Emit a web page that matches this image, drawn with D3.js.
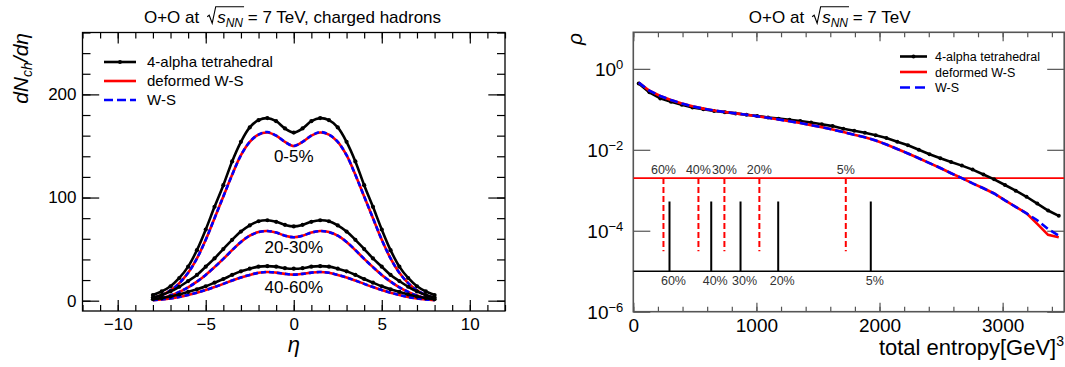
<!DOCTYPE html>
<meta charset="utf-8">
<style>
body { margin: 0; background: #fff; }
svg { font-family: "Liberation Sans", Arial, Helvetica, sans-serif; }
</style>
<body>
<script src="https://d3js.org/d3.v7.min.js"></script>
<script>

//
// Data: dN/deta vs eta (left panel)
//

var eta = [-8, -7.5, -7, -6.5, -6, -5.5, -5, -4.5, -4, -3.5, -3, -2.5, -2, -1.5, -1, -0.5, 0,
           0.5, 1, 1.5, 2, 2.5, 3, 3.5, 4, 4.5, 5, 5.5, 6, 6.5, 7, 7.5, 8];

var tetra05   = [5.5, 9, 14, 22, 33, 49, 69, 91, 112, 135, 154, 168, 175, 177, 174, 167, 163,
                 167, 174, 177, 175, 168, 154, 135, 112, 91, 69, 49, 33, 22, 14, 9, 5.5];
var defWS05   = [2.5, 5.5, 10, 17, 27, 41, 59, 80, 101, 122, 141, 154, 161, 163, 160, 154, 150,
                 154, 160, 163, 161, 154, 141, 122, 101, 80, 59, 41, 27, 17, 10, 5.5, 2.5];
var ws05      = [2.5, 5.5, 10, 17, 27, 41, 59, 80, 101, 122, 141, 154, 161, 163.5, 160, 154, 150,
                 154, 160, 163.5, 161, 154, 141, 122, 101, 80, 59, 41, 27, 17, 10, 5.5, 2.5];

var tetra2030 = [3, 5.5, 9, 13.5, 19, 25, 33, 41, 50, 59, 67, 73, 77, 78, 76.5, 73.5, 72,
                 73.5, 76.5, 78, 77, 73, 67, 59, 50, 41, 33, 25, 19, 13.5, 9, 5.5, 3];
var defWS2030 = [1, 2.5, 5, 8.5, 13, 18.5, 25, 32.5, 40.5, 49, 57, 63, 66.5, 67.5, 66, 63, 61.5,
                 63, 66, 67.5, 66.5, 63, 57, 49, 40.5, 32.5, 25, 18.5, 13, 8.5, 5, 2.5, 1];
var ws2030    = [1, 2.5, 5, 8.5, 13, 18.5, 25, 32.5, 40.5, 49, 57, 63, 66.5, 67.5, 66, 63, 61.5,
                 63, 66, 67.5, 66.5, 63, 57, 49, 40.5, 32.5, 25, 18.5, 13, 8.5, 5, 2.5, 1];

var tetra4060 = [1.5, 2.5, 4, 6, 8.5, 11, 14, 17.5, 21, 25, 28.5, 31, 33, 33.5, 33, 31.5, 31,
                 31.5, 33, 33.5, 33, 31, 28.5, 25, 21, 17.5, 14, 11, 8.5, 6, 4, 2.5, 1.5];
var defWS4060 = [0.5, 1.2, 2.2, 3.6, 5.5, 7.7, 10.3, 13.2, 16.3, 19.5, 22.5, 25, 27, 27.8, 27.2, 26, 25.3,
                 26, 27.2, 27.8, 27, 25, 22.5, 19.5, 16.3, 13.2, 10.3, 7.7, 5.5, 3.6, 2.2, 1.2, 0.5];
var ws4060    = [0.5, 1.2, 2.2, 3.6, 5.5, 7.7, 10.3, 13.2, 16.3, 19.5, 22.5, 25, 27, 27.8, 27.2, 26, 25.3,
                 26, 27.2, 27.8, 27, 25, 22.5, 19.5, 16.3, 13.2, 10.3, 7.7, 5.5, 3.6, 2.2, 1.2, 0.5];

var centralityNames = ["0-5%", "20-30%", "40-60%"];
var centralityLabelY = [134.7, 45.9, 7.7];

//
// Data: rho vs total entropy (right panel)
//

var entropy = [44, 131, 219, 306, 394, 481, 569, 656, 744, 831,
               919, 1006, 1094, 1181, 1269, 1356, 1444, 1531, 1619, 1706,
               1794, 1881, 1969, 2056, 2144, 2231, 2319, 2406, 2494, 2581,
               2669, 2756, 2844, 2931, 3019, 3106, 3194, 3281, 3369, 3456];

var rhoTetra = [0.437, 0.263, 0.186, 0.153, 0.129, 0.111, 0.100, 0.0912, 0.0851, 0.0794,
                0.0733, 0.0684, 0.0631, 0.0589, 0.0550, 0.0513, 0.0473, 0.0427, 0.0385, 0.0331,
                0.0295, 0.0263, 0.0229, 0.0195, 0.0158, 0.0129, 0.0100, 0.00776, 0.00617, 0.00501,
                0.00407, 0.00324, 0.00245, 0.00186, 0.00135, 0.000977, 0.000692, 0.000468, 0.000316, 0.000234];
var rhoDefWS = [0.457, 0.288, 0.214, 0.170, 0.140, 0.119, 0.104, 0.0933, 0.0861, 0.0794,
                0.0733, 0.0676, 0.0617, 0.0562, 0.0507, 0.0457, 0.0407, 0.0363, 0.0316, 0.0275,
                0.0234, 0.0204, 0.0170, 0.0135, 0.0105, 0.00813, 0.00617, 0.00468, 0.00355, 0.00263,
                0.00200, 0.00148, 0.00112, 0.000832, 0.000562, 0.000389, 0.000269, 0.000148, 0.0000794, 0.0000692];
var rhoWS    = [0.457, 0.288, 0.214, 0.170, 0.140, 0.119, 0.104, 0.0933, 0.0861, 0.0794,
                0.0733, 0.0676, 0.0617, 0.0562, 0.0507, 0.0457, 0.0407, 0.0363, 0.0316, 0.0275,
                0.0234, 0.0204, 0.0170, 0.0135, 0.0105, 0.00813, 0.00617, 0.00468, 0.00355, 0.00263,
                0.00200, 0.00148, 0.00112, 0.000832, 0.000562, 0.000389, 0.000269, 0.000182, 0.000110, 0.0000759];

// centrality cuts (total entropy)
var cutNames   = ["60%", "40%", "30%", "20%", "5%"];
var cutsDefWS  = [245, 529, 740, 1024, 1726];
var cutsTetra  = [294, 633, 871, 1177, 1929];
var defWSLevel = 2e-3, defWSBottom = 3.1e-5;
var tetraLevel = 1e-5, tetraTop = 5.3e-4;

var legendNames = ["4-alpha tetrahedral", "deformed W-S", "W-S"];

//
// SVG
//

var svg = d3.select("body").append("svg")
    .attr("width", 1065)
    .attr("height", 367);

function styleAxis(a, color, fontSize) {
  a.attr("font-family", null).attr("font-size", fontSize);
  a.select(".domain").remove();
  a.selectAll("line").attr("stroke", color).attr("stroke-width", 1.2);
  a.selectAll("text").attr("fill", "#000");
  return a;
}

function drawTitle(cx, tail) {
  var base = 22.7;
  var t = svg.append("text")
      .attr("x", cx).attr("y", base)
      .attr("text-anchor", "middle")
      .attr("font-size", 17);
  t.append("tspan").text("O+O at");
  t.append("tspan").attr("dx", 18).attr("font-style", "italic").text("s");
  t.append("tspan").attr("dy", 4).attr("font-size", 12).attr("font-style", "italic").text("NN");
  t.append("tspan").attr("dy", -4).text(" = 7 TeV" + tail);
  var node = t.node();
  var i0 = "O+O at".length;
  var sx = node.getStartPositionOfChar(i0).x;
  var ex = node.getEndPositionOfChar(i0 + 2).x;
  svg.append("path")
      .attr("d", `M${sx - 10},${base - 6} L${sx - 8},${base - 7.5} L${sx - 5},${base + 0.5} L${sx - 1.5},${base - 16} L${ex + 1},${base - 16}`)
      .attr("fill", "none")
      .attr("stroke", "#000")
      .attr("stroke-width", 1.1);
}

//
// Left panel
//

var xL = d3.scaleLinear().domain([-12, 12]).range([82.5, 505]);
var yL = d3.scaleLinear().domain([-10, 260]).range([311, 32.5]);

var left = svg.append("g");

left.append("clipPath").attr("id", "clipL")
  .append("rect")
    .attr("x", xL(-12)).attr("y", yL(260))
    .attr("width", xL(12) - xL(-12)).attr("height", yL(-10) - yL(260));

styleAxis(left.append("g").attr("transform", `translate(0,${yL(-10)})`)
  .call(d3.axisBottom(xL).tickValues(d3.range(-12, 13)).tickSize(-6).tickFormat("")), "#000", 17);
styleAxis(left.append("g").attr("transform", `translate(0,${yL(-10)})`)
  .call(d3.axisBottom(xL).tickValues([-10, -5, 0, 5, 10]).tickSize(-11).tickPadding(7).tickFormat(d3.format("d"))), "#000", 17);
styleAxis(left.append("g").attr("transform", `translate(0,${yL(260)})`)
  .call(d3.axisTop(xL).tickValues(d3.range(-12, 13)).tickSize(-6).tickFormat("")), "#000", 17);
styleAxis(left.append("g").attr("transform", `translate(0,${yL(260)})`)
  .call(d3.axisTop(xL).tickValues([-10, -5, 0, 5, 10]).tickSize(-11).tickFormat("")), "#000", 17);

styleAxis(left.append("g").attr("transform", `translate(${xL(-12)},0)`)
  .call(d3.axisLeft(yL).tickValues(d3.range(0, 261, 20)).tickSize(-8).tickFormat("")), "#000", 17);
styleAxis(left.append("g").attr("transform", `translate(${xL(-12)},0)`)
  .call(d3.axisLeft(yL).tickValues([0, 100, 200]).tickSize(-16.7).tickPadding(6)), "#000", 17);
styleAxis(left.append("g").attr("transform", `translate(${xL(12)},0)`)
  .call(d3.axisRight(yL).tickValues(d3.range(0, 261, 20)).tickSize(-8).tickFormat("")), "#000", 17);
styleAxis(left.append("g").attr("transform", `translate(${xL(12)},0)`)
  .call(d3.axisRight(yL).tickValues([0, 100, 200]).tickSize(-16.7).tickFormat("")), "#000", 17);

left.append("rect")
    .attr("x", xL(-12)).attr("y", yL(260))
    .attr("width", xL(12) - xL(-12)).attr("height", yL(-10) - yL(260))
    .attr("fill", "none").attr("stroke", "#000").attr("stroke-width", 1.3);

var lineL = d3.line()
    .curve(d3.curveCatmullRom)
    .x(function(d, i) { return xL(eta[i]); })
    .y(function(d) { return yL(d); });

var curvesL = left.append("g").attr("clip-path", "url(#clipL)");

[[tetra05, defWS05, ws05], [tetra2030, defWS2030, ws2030], [tetra4060, defWS4060, ws4060]].forEach(function(set) {
  curvesL.append("path").datum(set[1])
      .attr("d", lineL).attr("fill", "none")
      .attr("stroke", "#ff0000").attr("stroke-width", 2.6);
  curvesL.append("path").datum(set[2])
      .attr("d", lineL).attr("fill", "none")
      .attr("stroke", "#0000ff").attr("stroke-width", 2.6)
      .attr("stroke-dasharray", "5,3");
  curvesL.append("path").datum(set[0])
      .attr("d", lineL).attr("fill", "none")
      .attr("stroke", "#000").attr("stroke-width", 2.6);
  curvesL.selectAll(null).data(set[0]).enter()
    .append("circle")
      .attr("cx", function(d, i) { return xL(eta[i]); })
      .attr("cy", function(d) { return yL(d); })
      .attr("r", 2.1)
      .attr("fill", "#000");
});

left.selectAll(".centLabel").data(centralityNames).enter()
  .append("text")
    .attr("class", "centLabel")
    .attr("x", xL(0))
    .attr("y", function(d, i) { return yL(centralityLabelY[i]); })
    .attr("text-anchor", "middle")
    .attr("font-size", 17)
    .text(function(d) { return d; });

// legends
var legStyles = [
  {stroke: "#000", dash: false, marker: true},
  {stroke: "#ff0000", dash: false, marker: false},
  {stroke: "#0000ff", dash: true, marker: false}
];

function drawLegend(g, x0, x1, tx, rows, fontSize, dashPattern) {
  legendNames.forEach(function(name, i) {
    var s = legStyles[i];
    g.append("line")
        .attr("x1", x0).attr("x2", x1)
        .attr("y1", rows[i]).attr("y2", rows[i])
        .attr("stroke", s.stroke).attr("stroke-width", 2.6)
        .attr("stroke-dasharray", s.dash ? dashPattern : null);
    if (s.marker) {
      g.append("circle").attr("cx", (x0 + x1) / 2).attr("cy", rows[i]).attr("r", 2).attr("fill", "#000");
    }
    g.append("text")
        .attr("x", tx).attr("y", rows[i] + fontSize * 0.36)
        .attr("font-size", fontSize)
        .text(name);
  });
}

drawLegend(left, 104, 136, 147, [62, 81, 100], 15, "9,4");

// left axis titles
var yTitleL = left.append("text")
    .attr("transform", "translate(27.5,33) rotate(-90)")
    .attr("text-anchor", "end")
    .attr("font-size", 21)
    .attr("font-style", "italic");
yTitleL.append("tspan").text("dN");
yTitleL.append("tspan").attr("dy", 4).attr("font-size", 14).text("ch");
yTitleL.append("tspan").attr("dy", -4).text("/d\u03b7");

left.append("text")
    .attr("x", xL(0)).attr("y", 352)
    .attr("text-anchor", "middle")
    .attr("font-size", 22)
    .attr("font-style", "italic")
    .text("\u03b7");

drawTitle(292.5, ", charged hadrons");

//
// Right panel
//

var xR = d3.scaleLinear().domain([0, 3500]).range([633.3, 1064.2]);
var yR = d3.scaleLog().domain([1e-6, 8]).range([311.7, 32.3]);
var axisGray = "#555";

var right = svg.append("g");

right.append("clipPath").attr("id", "clipR")
  .append("rect")
    .attr("x", xR(0)).attr("y", yR(8))
    .attr("width", xR(3500) - xR(0)).attr("height", yR(1e-6) - yR(8));

styleAxis(right.append("g").attr("transform", `translate(0,${yR(1e-6)})`)
  .call(d3.axisBottom(xR).tickValues(d3.range(0, 3501, 200)).tickSize(-5).tickFormat("")), axisGray, 19);
styleAxis(right.append("g").attr("transform", `translate(0,${yR(1e-6)})`)
  .call(d3.axisBottom(xR).tickValues([0, 1000, 2000, 3000]).tickSize(-9).tickPadding(7).tickFormat(d3.format("d"))), axisGray, 19);
styleAxis(right.append("g").attr("transform", `translate(0,${yR(8)})`)
  .call(d3.axisTop(xR).tickValues(d3.range(0, 3501, 200)).tickSize(-5).tickFormat("")), axisGray, 19);
styleAxis(right.append("g").attr("transform", `translate(0,${yR(8)})`)
  .call(d3.axisTop(xR).tickValues([0, 1000, 2000, 3000]).tickSize(-9).tickFormat("")), axisGray, 19);

var decades = [1, 1e-2, 1e-4, 1e-6];
var decadeExp = ["0", "\u22122", "\u22124", "\u22126"];

styleAxis(right.append("g").attr("transform", `translate(${xR(0)},0)`)
  .call(d3.axisLeft(yR).tickValues(decades).tickSize(-17).tickFormat("")), axisGray, 19);
styleAxis(right.append("g").attr("transform", `translate(${xR(3500)},0)`)
  .call(d3.axisRight(yR).tickValues(decades).tickSize(-17).tickFormat("")), axisGray, 19);

var yLabR = right.selectAll(".decLabel").data(decades).enter()
  .append("text")
    .attr("class", "decLabel")
    .attr("x", xR(0) - 10)
    .attr("y", function(d) { return yR(d) + 7; })
    .attr("text-anchor", "end")
    .attr("font-size", 19);
yLabR.append("tspan").text("10");
yLabR.append("tspan").attr("dy", -7).attr("font-size", 13)
    .text(function(d, i) { return decadeExp[i]; });

right.append("rect")
    .attr("x", xR(0)).attr("y", yR(8))
    .attr("width", xR(3500) - xR(0)).attr("height", yR(1e-6) - yR(8))
    .attr("fill", "none").attr("stroke", axisGray).attr("stroke-width", 1.6);

var plotR = right.append("g").attr("clip-path", "url(#clipR)");

// centrality reference lines
plotR.append("line")
    .attr("x1", xR(0)).attr("x2", xR(3500))
    .attr("y1", yR(defWSLevel)).attr("y2", yR(defWSLevel))
    .attr("stroke", "#ff0000").attr("stroke-width", 1.6);
plotR.append("line")
    .attr("x1", xR(0)).attr("x2", xR(3500))
    .attr("y1", yR(tetraLevel)).attr("y2", yR(tetraLevel))
    .attr("stroke", "#000").attr("stroke-width", 1.4);

plotR.selectAll(".cutR").data(cutsDefWS).enter()
  .append("line")
    .attr("class", "cutR")
    .attr("x1", function(d) { return xR(d); }).attr("x2", function(d) { return xR(d); })
    .attr("y1", yR(defWSLevel)).attr("y2", yR(defWSBottom))
    .attr("stroke", "#ff0000").attr("stroke-width", 2)
    .attr("stroke-dasharray", "6,3");
plotR.selectAll(".cutB").data(cutsTetra).enter()
  .append("line")
    .attr("class", "cutB")
    .attr("x1", function(d) { return xR(d); }).attr("x2", function(d) { return xR(d); })
    .attr("y1", yR(tetraTop)).attr("y2", yR(tetraLevel))
    .attr("stroke", "#000").attr("stroke-width", 2);

plotR.selectAll(".cutRLab").data(cutsDefWS).enter()
  .append("text")
    .attr("class", "cutRLab")
    .attr("x", function(d) { return xR(d); })
    .attr("y", yR(defWSLevel) - 4.5)
    .attr("text-anchor", "middle")
    .attr("font-size", 12.5)
    .attr("fill", "#333")
    .text(function(d, i) { return cutNames[i]; });
plotR.selectAll(".cutBLab").data(cutsTetra).enter()
  .append("text")
    .attr("class", "cutBLab")
    .attr("x", function(d) { return xR(d) + 4; })
    .attr("y", yR(tetraLevel) + 14)
    .attr("text-anchor", "middle")
    .attr("font-size", 12.5)
    .attr("fill", "#333")
    .text(function(d, i) { return cutNames[i]; });

var lineR = d3.line()
    .x(function(d, i) { return xR(entropy[i]); })
    .y(function(d) { return yR(d); });

plotR.append("path").datum(rhoTetra)
    .attr("d", lineR).attr("fill", "none")
    .attr("stroke", "#000").attr("stroke-width", 2.6);
plotR.selectAll(".mkR").data(rhoTetra).enter()
  .append("circle")
    .attr("class", "mkR")
    .attr("cx", function(d, i) { return xR(entropy[i]); })
    .attr("cy", function(d) { return yR(d); })
    .attr("r", 2)
    .attr("fill", "#000");
plotR.append("path").datum(rhoDefWS)
    .attr("d", lineR).attr("fill", "none")
    .attr("stroke", "#ff0000").attr("stroke-width", 2.6);
plotR.append("path").datum(rhoWS)
    .attr("d", lineR).attr("fill", "none")
    .attr("stroke", "#0000ff").attr("stroke-width", 2.6)
    .attr("stroke-dasharray", "8,4");

drawLegend(right, 900, 927, 935, [56.5, 72, 87.5], 12.5, "10,5");

// right axis titles
right.append("text")
    .attr("transform", "translate(582,33) rotate(-90)")
    .attr("text-anchor", "end")
    .attr("font-size", 21)
    .attr("font-style", "italic")
    .text("\u03c1");

var xTitleR = right.append("text")
    .attr("x", 1064).attr("y", 355)
    .attr("text-anchor", "end")
    .attr("font-size", 22);
xTitleR.append("tspan").text("total entropy[GeV]");
xTitleR.append("tspan").attr("dy", -9).attr("font-size", 14).text("3");

drawTitle(829.7, "");

</script>
</body>
